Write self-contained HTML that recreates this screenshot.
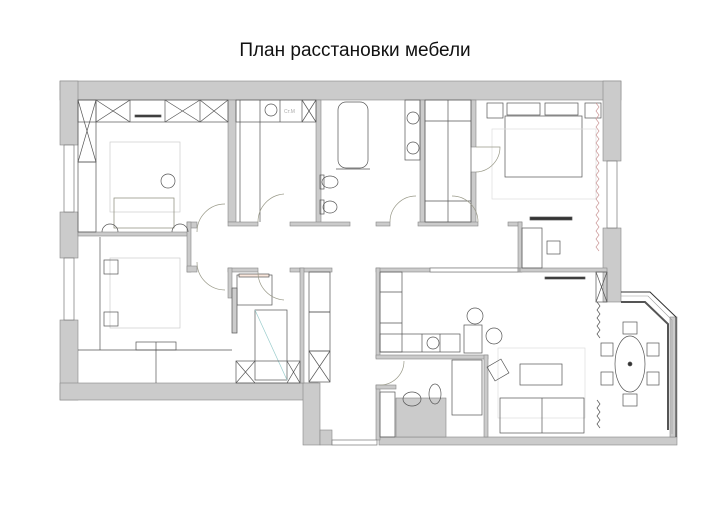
<!DOCTYPE html>
<html><head><meta charset="utf-8"><style>
html,body{margin:0;padding:0;background:#fff}
svg{display:block}
</style></head><body>
<svg width="728" height="513" viewBox="0 0 728 513" xmlns="http://www.w3.org/2000/svg">
<rect width="728" height="513" fill="#fff"/>
<text x="355" y="56" font-family="Liberation Sans, sans-serif" font-size="19" text-anchor="middle" fill="#111">План расстановки мебели</text>
<g fill="#cbcbcb" stroke="#888" stroke-width="0.6">
<rect x="60" y="81" width="561" height="19"/>
<rect x="60" y="81" width="18" height="64"/>
<rect x="60" y="212" width="18" height="46"/>
<rect x="60" y="320" width="18" height="80"/>
<rect x="60" y="383" width="258" height="17"/>
<rect x="303" y="383" width="17" height="62"/>
<rect x="320" y="430" width="12" height="15"/>
<rect x="603" y="81" width="18" height="80"/>
<rect x="603" y="228" width="18" height="74"/>
<rect x="379" y="437" width="298" height="8"/>
<rect x="396" y="398" width="50" height="39"/>
<rect x="670" y="317" width="7" height="120"/>
<rect x="228" y="100" width="8" height="122"/>
<rect x="316" y="100" width="5" height="124"/>
<rect x="420" y="100" width="5" height="124"/>
<rect x="471" y="100" width="5" height="47"/>
<rect x="471" y="172" width="5" height="52"/>
<rect x="78" y="232" width="112" height="4"/>
<rect x="187" y="222" width="10" height="6"/>
<rect x="187" y="222" width="4" height="50"/>
<rect x="187" y="266" width="10" height="6"/>
<rect x="228" y="222" width="30" height="4"/>
<rect x="290" y="222" width="60" height="4"/>
<rect x="376" y="222" width="14" height="4"/>
<rect x="418" y="222" width="60" height="4"/>
<rect x="508" y="222" width="14" height="4"/>
<rect x="518" y="222" width="4" height="50"/>
<rect x="228" y="268" width="30" height="4"/>
<rect x="228" y="268" width="4" height="30"/>
<rect x="290" y="268" width="10" height="4"/>
<rect x="300" y="268" width="32" height="4"/>
<rect x="300" y="268" width="4" height="115"/>
<rect x="376" y="268" width="144" height="4"/>
<rect x="376" y="268" width="4" height="90"/>
<rect x="376" y="355" width="112" height="4"/>
<rect x="484" y="355" width="4" height="82"/>
<rect x="376" y="385" width="4" height="55"/>
<rect x="376" y="385" width="20" height="4"/>
<rect x="520" y="268" width="87" height="4"/>
</g>
<g fill="#fff" stroke="#777" stroke-width="0.7">
<rect x="64" y="145" width="10" height="67"/>
<rect x="64" y="258" width="10" height="62"/>
<rect x="607" y="161" width="10" height="67"/>
<rect x="332" y="440" width="45" height="5"/>
<rect x="430" y="268" width="88" height="4"/>
</g>
<g fill="none" stroke="#333" stroke-width="1">
<polyline points="621,292 650,292 676,317 676,437"/>
<polyline points="621,302 645,302 668,324 668,430" stroke="#555" stroke-width="2"/>
<polyline points="621,296 648,296 672,320 672,434" stroke="#999" stroke-width="0.6"/>
</g>
<g fill="none" stroke="#555" stroke-width="0.7">
<rect x="78" y="100" width="150" height="22"/>
<line x1="96" y1="100" x2="96" y2="122"/><line x1="130" y1="100" x2="130" y2="122"/><line x1="165" y1="100" x2="165" y2="122"/><line x1="200" y1="100" x2="200" y2="122"/>
<line x1="96" y1="100" x2="130" y2="122"/><line x1="96" y1="122" x2="130" y2="100"/>
<line x1="165" y1="100" x2="200" y2="122"/><line x1="165" y1="122" x2="200" y2="100"/>
<line x1="200" y1="100" x2="228" y2="122"/><line x1="200" y1="122" x2="228" y2="100"/>
<rect x="78" y="100" width="18" height="62"/>
<line x1="78" y1="100" x2="96" y2="162"/><line x1="96" y1="100" x2="78" y2="162"/>
<rect x="78" y="162" width="18" height="70"/>
<rect x="135" y="115" width="26" height="2" fill="#333"/>
<rect x="110" y="142" width="70" height="70" stroke="#ccc"/>
<circle cx="168" cy="181" r="7"/>
<rect x="114" y="198" width="60" height="30" stroke="#887"/>
<path d="M102,232 a8,8 0 0 1 16,0 M172,232 a8,8 0 0 1 16,0"/>
<rect x="236" y="100" width="80" height="22"/>
<line x1="260" y1="100" x2="260" y2="222"/><line x1="280" y1="100" x2="280" y2="122"/><line x1="302" y1="100" x2="302" y2="122"/>
<line x1="302" y1="100" x2="316" y2="122"/><line x1="316" y1="100" x2="302" y2="122"/>
<line x1="240" y1="100" x2="240" y2="222"/>
<circle cx="271" cy="110" r="6"/>
<text x="284" y="113" font-family="Liberation Sans,sans-serif" font-size="5" fill="#aaa" stroke="none">Ст.М</text>
<rect x="338" y="102" width="30" height="66" rx="8"/>
<line x1="336" y1="169" x2="370" y2="169"/>
<rect x="405" y="100" width="15" height="60"/>
<circle cx="413" cy="118" r="6"/><circle cx="413" cy="148" r="6"/>
<ellipse cx="330" cy="182" rx="8" ry="6"/><rect x="320" y="175" width="4" height="14"/>
<ellipse cx="330" cy="207" rx="7" ry="6"/><rect x="320" y="200" width="4" height="14"/>
<rect x="425" y="100" width="46" height="122"/>
<line x1="448" y1="100" x2="448" y2="222"/><line x1="425" y1="121" x2="471" y2="121"/><line x1="425" y1="201" x2="471" y2="201"/>
<rect x="487" y="103" width="16" height="15"/><rect x="585" y="103" width="16" height="15"/>
<rect x="507" y="103" width="33" height="12"/><rect x="545" y="103" width="33" height="12"/>
<rect x="505" y="116" width="77" height="61"/>
<rect x="492" y="129" width="104" height="70" stroke="#ddd"/>
<rect x="530" y="217" width="42" height="3" fill="#333"/>
<rect x="522" y="228" width="20" height="40"/>
<rect x="547" y="241" width="13" height="13"/>
<path d="M596,103 l3,4 -3,4 3,4 -3,4 3,4 -3,4 3,4 -3,4 3,4 -3,4 3,4 -3,4 3,4 -3,4 3,4 -3,4 3,4 -3,4 3,4 -3,4 3,4 -3,4 3,4 -3,4 3,4 -3,4 3,4 -3,4 3,4 -3,4 3,4 -3,4 3,4 -3,4 3,4 -3,4 3,4" stroke="#c99"/>
<line x1="100" y1="237" x2="100" y2="350"/>
<rect x="110" y="258" width="70" height="70" stroke="#ccc"/>
<rect x="104" y="260" width="14" height="14"/><rect x="104" y="312" width="14" height="14"/>
<line x1="78" y1="350" x2="232" y2="350"/>
<rect x="136" y="342" width="40" height="8"/><line x1="156" y1="342" x2="156" y2="383"/>
<rect x="237" y="275" width="35" height="30"/>
<rect x="255" y="310" width="32" height="70"/>
<line x1="255" y1="310" x2="287" y2="380" stroke="#9cc"/>
<rect x="236" y="361" width="64" height="22"/>
<line x1="236" y1="361" x2="255" y2="383"/><line x1="255" y1="361" x2="236" y2="383"/>
<line x1="287" y1="361" x2="300" y2="383"/><line x1="300" y1="361" x2="287" y2="383"/>
<rect x="232" y="288" width="5" height="45" fill="#ccc"/>
<rect x="239" y="274" width="30" height="3" fill="#fbe8dd"/>
<rect x="309" y="272" width="21" height="110"/>
<line x1="309" y1="312" x2="330" y2="312" stroke="#333"/><line x1="309" y1="351" x2="330" y2="351" stroke="#333"/>
<line x1="309" y1="351" x2="330" y2="382"/><line x1="330" y1="351" x2="309" y2="382"/>
<rect x="380" y="272" width="22" height="80"/>
<line x1="380" y1="292" x2="402" y2="292"/><line x1="380" y1="323" x2="402" y2="323"/>
<rect x="380" y="334" width="80" height="18"/>
<line x1="422" y1="334" x2="422" y2="352"/><line x1="440" y1="334" x2="440" y2="352"/>
<circle cx="433" cy="343" r="6"/>
<rect x="464" y="325" width="18" height="28"/>
<circle cx="475" cy="316" r="8"/><circle cx="494" cy="336" r="8"/>
<rect x="545" y="277" width="40" height="2" fill="#333"/>
<rect x="596" y="272" width="11" height="30"/>
<line x1="596" y1="272" x2="607" y2="302"/><line x1="607" y1="272" x2="596" y2="302"/>
<rect x="498" y="348" width="87" height="70" stroke="#ddd"/>
<rect x="520" y="364" width="42" height="21"/>
<rect x="490" y="362" width="16" height="16" transform="rotate(-30 498 370)"/>
<rect x="500" y="398" width="84" height="35"/><line x1="542" y1="398" x2="542" y2="433"/>
<rect x="452" y="360" width="30" height="55"/>
<ellipse cx="412" cy="399" rx="9" ry="7"/>
<ellipse cx="435" cy="394" rx="6" ry="10"/>
<rect x="380" y="392" width="15" height="45"/>
<ellipse cx="630" cy="364" rx="15" ry="28"/>
<circle cx="630" cy="364" r="2" fill="#333"/>
<rect x="623" y="322" width="14" height="12"/><rect x="623" y="394" width="14" height="12"/>
<rect x="601" y="343" width="12" height="13"/><rect x="647" y="343" width="12" height="13"/>
<rect x="601" y="372" width="12" height="13"/><rect x="647" y="372" width="12" height="13"/>
<path d="M597,302 l3,4 -3,4 3,4 -3,4 3,4 -3,4 3,4 -3,4 3,4 M597,400 l3,4 -3,4 3,4 -3,4 3,4 -3,4 3,4"/>
</g>
<g fill="none" stroke="#998" stroke-width="0.7">
<path d="M197,232 a28,28 0 0 1 28,-28 M258,222 a28,28 0 0 1 26,-28"/>
<path d="M390,222 a26,26 0 0 1 26,-26 M478,222 a26,26 0 0 0 -26,-26"/>
<path d="M476,147 L500,147 A25,25 0 0 1 476,172"/>
<path d="M197,262 a28,28 0 0 0 28,28 M258,272 a28,28 0 0 0 26,28"/>
<path d="M380,385 a24,24 0 0 0 24,-24"/>
</g>
</svg>
</body></html>
